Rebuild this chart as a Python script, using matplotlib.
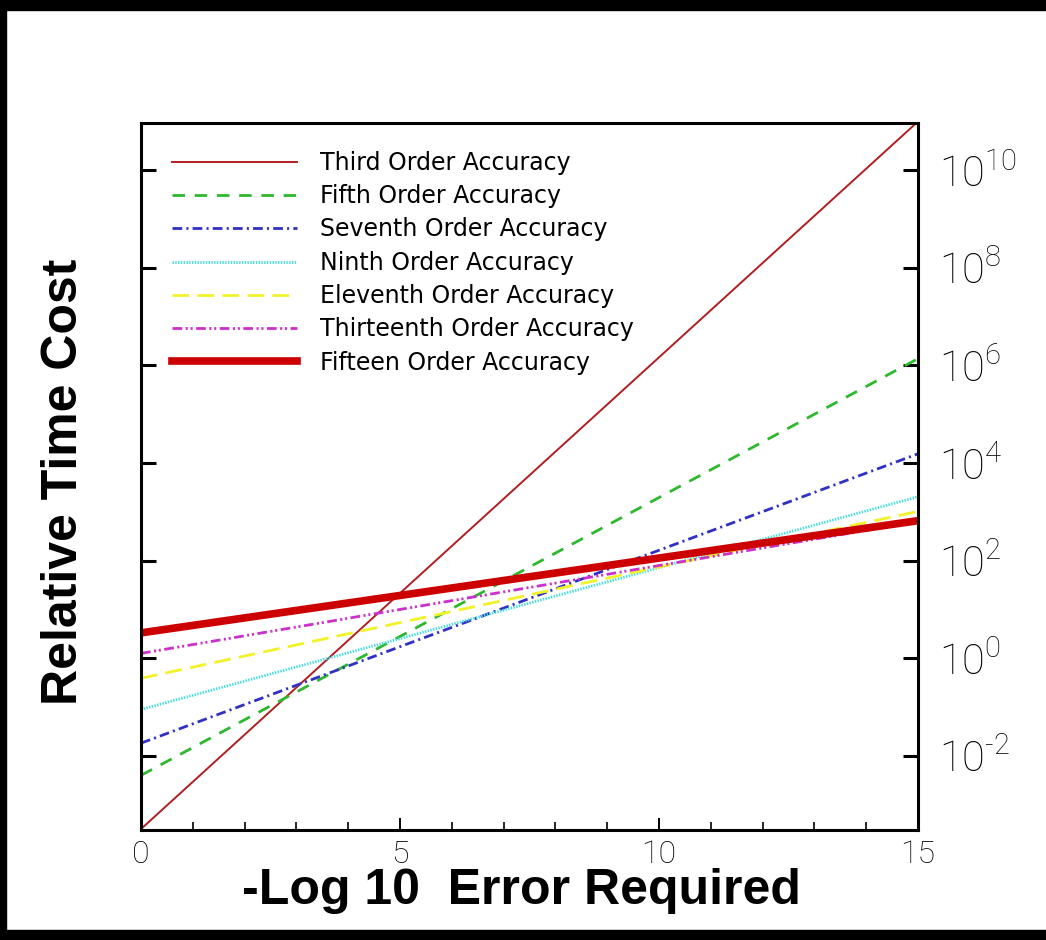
import matplotlib

matplotlib.use("Agg")

import matplotlib.pyplot as plt
import numpy as np
from matplotlib.patches import Rectangle
from matplotlib.ticker import FixedLocator, FuncFormatter, MultipleLocator

# -log10 of the required error at both ends of each line
error_range = [0.0, 15.0]

labels = [
    "Third Order Accuracy",
    "Fifth Order Accuracy",
    "Seventh Order Accuracy",
    "Ninth Order Accuracy",
    "Eleventh Order Accuracy",
    "Thirteenth Order Accuracy",
    "Fifteen Order Accuracy",
]
# log10 of the relative time cost at error_range[0] and error_range[1]
log_cost_start = [-3.5, -2.40, -1.74, -1.05, -0.41, 0.10, 0.52]
log_cost_end = [11.0, 6.14, 4.19, 3.31, 3.01, 2.80, 2.82]

y_ticks = [-2, 0, 2, 4, 6, 8, 10]
x_ticks = [0, 5, 10, 15]

colors = ["#b01e22", "#2eb82e", "#3030c4", "#3fdede", "#f2f22a", "#cc30cc", "#cc0000"]
styles = [
    "-",
    (0, (9, 7)),
    (0, (7, 3, 1.5, 3)),
    (0, (1, 1)),
    (0, (12, 6)),
    (0, (7, 2.5, 1.5, 2, 1.5, 2.5)),
    "-",
]
widths = [1.4, 2.0, 2.0, 2.0, 2.0, 2.0, 5.5]

plt.rcParams["lines.scale_dashes"] = False
plt.rcParams["mathtext.fontset"] = "custom"
plt.rcParams["mathtext.rm"] = "Roboto:weight=light"


def power_label(v, pos):
    k = int(round(np.log10(v)))
    # short hyphen for negative exponents instead of a full minus sign
    exp = ("\u2010%d" % -k) if k < 0 else "%d" % k
    return r"$\mathrm{10^{%s}}$" % exp


fig = plt.figure(figsize=(10.46, 9.4), dpi=100)
fig.patch.set_facecolor("white")

W, H = 1046, 940
# black frame bands along the top, left and bottom edges
for x0, y0, w, h in [(0, H - 10, W, 10), (0, 0, 6, H), (0, 0, W, 10)]:
    fig.patches.append(Rectangle((x0 / W, y0 / H), w / W, h / H,
                                 transform=fig.transFigure, color="black", zorder=0))

ax = fig.add_axes([141 / W, (H - 830) / H, (918 - 141) / W, (830 - 122.5) / H])

for lab, y0, y1, c, ls, lw in zip(labels, log_cost_start, log_cost_end, colors, styles, widths):
    ax.semilogy(error_range, [10 ** y0, 10 ** y1], color=c, linestyle=ls, linewidth=lw, label=lab)

ax.set_xlim(0, 15)
ax.set_ylim(10 ** -3.52, 10 ** 10.98)

for s in ax.spines.values():
    s.set_linewidth(2.2)

ax.xaxis.set_major_locator(FixedLocator(x_ticks))
ax.xaxis.set_minor_locator(MultipleLocator(1))
ax.yaxis.set_major_locator(FixedLocator([10.0 ** k for k in y_ticks]))
ax.yaxis.set_minor_locator(FixedLocator([]))
ax.yaxis.set_major_formatter(FuncFormatter(power_label))

ax.tick_params(axis="y", which="major", direction="in", length=11, width=2.2,
               left=True, right=True, labelleft=False, labelright=True,
               labelsize=30, pad=15)
ax.tick_params(axis="x", which="major", direction="in", length=9, width=1.4,
               top=False, labelsize=23, pad=7)
ax.tick_params(axis="x", which="minor", direction="in", length=6, width=1.2, top=False)
for t in ax.get_xticklabels():
    t.set_fontfamily("Roboto")
    t.set_fontweight("light")

label_font = dict(family=["Liberation Sans Narrow", "Liberation Sans"], weight="bold", size=36)
ax.set_xlabel("-Log 10  Error Required", **label_font)
ax.xaxis.set_label_coords(0.489, -0.054)
ax.set_ylabel("Relative Time Cost", **label_font)
ax.yaxis.set_label_coords(-0.070, 0.492)

ax.legend(loc="upper left", bbox_to_anchor=(0.040, 0.960), frameon=False,
          prop=dict(family="DejaVu Sans", size=17), handlelength=5.3,
          handletextpad=0.97, labelspacing=0.395, borderpad=0, borderaxespad=0)

fig.savefig("out.png", dpi=100)
